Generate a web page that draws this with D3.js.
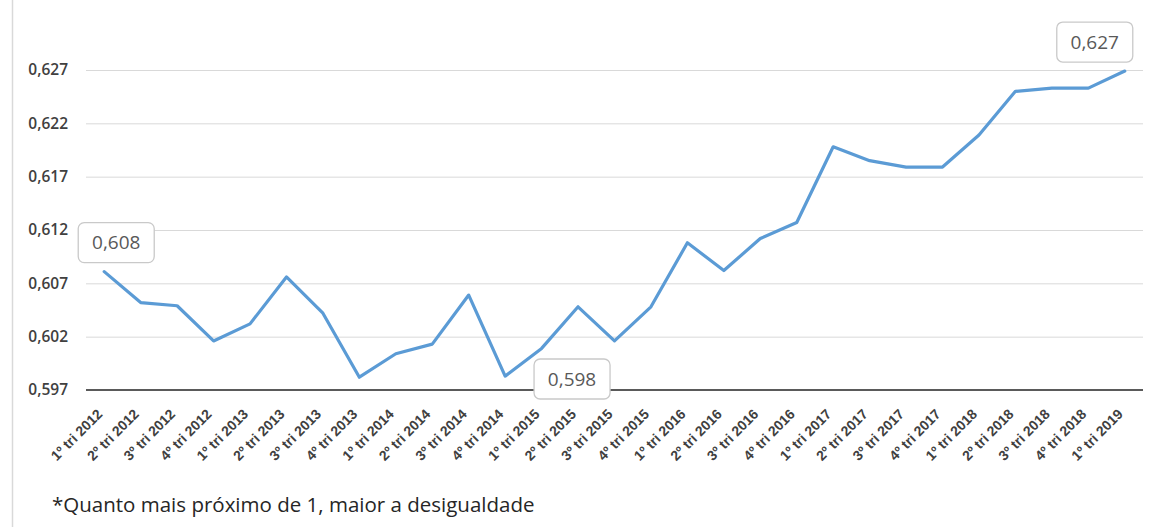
<!DOCTYPE html>
<html><head><meta charset="utf-8">
<script src="https://cdn.jsdelivr.net/npm/d3@7/dist/d3.min.js"></script>
<style>body{margin:0;background:#fff;}svg{display:block;font-family:"Open Sans","Noto Sans",sans-serif;}</style>
</head><body>
<svg id="c" width="1154" height="527"></svg>
<script>
const categories = ["1º tri 2012","2º tri 2012","3º tri 2012","4º tri 2012","1º tri 2013","2º tri 2013","3º tri 2013","4º tri 2013","1º tri 2014","2º tri 2014","3º tri 2014","4º tri 2014","1º tri 2015","2º tri 2015","3º tri 2015","4º tri 2015","1º tri 2016","2º tri 2016","3º tri 2016","4º tri 2016","1º tri 2017","2º tri 2017","3º tri 2017","4º tri 2017","1º tri 2018","2º tri 2018","3º tri 2018","4º tri 2018","1º tri 2019"];
const values = [0.6081,0.6052,0.6049,0.6016,0.6032,0.6076,0.6042,0.5982,0.6004,0.6013,0.6059,0.5983,0.6009,0.6048,0.6016,0.6048,0.6108,0.6082,0.6112,0.6127,0.6198,0.6185,0.6179,0.6179,0.6209,0.6250,0.6253,0.6253,0.6269];
const yTicks = [0.597,0.602,0.607,0.612,0.617,0.622,0.627];
const annotations = [
  {label:"0,608", cat:"1º tri 2012", pos:"above", dx:12},
  {label:"0,598", cat:"2º tri 2015", pos:"below", dx:-6},
  {label:"0,627", cat:"1º tri 2019", pos:"above", dx:-30}
];
const footnote = "*Quanto mais próximo de 1, maior a desigualdade";

const svg = d3.select("#c");
const x = d3.scaleBand().domain(categories).range([86,1143]);
const y = d3.scaleLinear().domain([0.597,0.627]).range([390,70]);
const fmt = v => d3.format(".3f")(v).replace(".", ",");

// left border
svg.append("line").attr("x1",12.5).attr("x2",12.5).attr("y1",0).attr("y2",527).attr("stroke","#d9d9d9").attr("stroke-width",1.5);

// grid
const grid = svg.append("g").attr("transform","translate(86,0)")
  .call(d3.axisLeft(y).tickValues(yTicks).tickSize(-(1143-86)).tickFormat(""));
grid.select(".domain").remove();
grid.selectAll("line").attr("stroke","#d9d9d9").attr("stroke-width",1);

// y labels
const yl = svg.append("g").attr("transform","translate(68,0)")
  .call(d3.axisLeft(y).tickValues(yTicks).tickSize(0).tickFormat(fmt));
yl.select(".domain").remove();
yl.selectAll("text").attr("font-size",15.5).attr("font-weight",600).attr("fill","#404040").attr("font-family","'Open Sans',sans-serif").attr("x",0);

// baseline
svg.append("line").attr("x1",86).attr("x2",1143).attr("y1",y(0.597)).attr("y2",y(0.597)).attr("stroke","#5a5a5a").attr("stroke-width",2);

// x labels
const xa = svg.append("g").attr("transform",`translate(0,${y(0.597)})`)
  .call(d3.axisBottom(x).tickSize(0));
xa.select(".domain").remove();
xa.selectAll("text").attr("font-size",14).attr("font-weight",600).attr("fill","#404040")
  .attr("text-anchor","end").attr("dy",0).attr("x",0).attr("y",0)
  .attr("transform","translate(-1,25) rotate(-45)");

// line
svg.append("path").datum(values)
  .attr("fill","none").attr("stroke","#5b9bd5").attr("stroke-width",3.2).attr("stroke-linejoin","round").attr("stroke-linecap","round")
  .attr("d", d3.line().x((d,i)=>x(categories[i])+x.bandwidth()/2).y(d=>y(d)));

// annotations
annotations.forEach(a=>{
  const i = categories.indexOf(a.cat);
  const cx = x(a.cat)+x.bandwidth()/2 + a.dx;
  const cy = a.pos==="above" ? y(values[i]) - 29 : y(0.597) - 11;
  const w = 76, h = 40;
  const g = svg.append("g");
  g.append("rect").attr("x",cx-w/2).attr("y",cy-h/2).attr("width",w).attr("height",h).attr("rx",6)
    .attr("fill","#fff").attr("stroke","#c9c9c9").attr("stroke-width",1.3);
  g.append("text").attr("x",cx).attr("y",cy).attr("dy","0.36em").attr("text-anchor","middle")
    .attr("font-size",19).attr("fill","#595959").text(a.label);
});

// footnote
svg.append("text").attr("x",52).attr("y",512).attr("font-size",20.5).attr("fill","#262626").text(footnote);
</script>
</body></html>
